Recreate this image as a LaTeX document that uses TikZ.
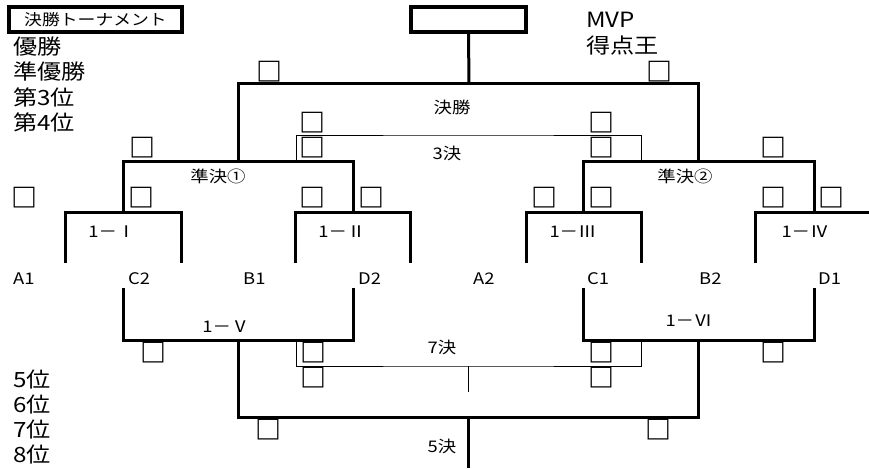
\documentclass[tikz,border=0pt]{standalone}
\usepackage{fontspec}
\setmainfont{Noto Sans CJK JP}
\newfontfamily\jpfont[FakeStretch=1.15]{Noto Sans CJK JP}
\begin{document}
\begin{tikzpicture}[
    x=1pt, y=-1pt,
    bracket/.style={line width=3pt},
    thinbracket/.style={line width=1pt},
    cellbox/.style={draw, line width=4pt, inner sep=0pt, minimum height=25pt},
    bigtext/.style={anchor=west, inner sep=0pt, font=\jpfont\fontsize{21}{21}\selectfont},
    small/.style={inner sep=0pt, font=\jpfont\fontsize{16}{16}\selectfont},
    team/.style={anchor=west, inner sep=0pt, font=\jpfont\fontsize{16}{16}\selectfont},
    score/.style={inner sep=0pt, font=\bfseries\fontsize{26}{26}\selectfont}
]
\useasboundingbox (0,0) rectangle (869,468);

% Cadres du haut
\node[cellbox, minimum width=173pt, font=\jpfont\fontsize{15.5}{15.5}\selectfont] (title) at (95.5,19.5) {決勝トーナメント};
\node[cellbox, minimum width=115pt] (champ) at (468.5,19.5) {};

% Classement
\node[bigtext] (p1) at (13,47) {優勝};
\node[bigtext] (p2) at (13,72) {準優勝};
\node[bigtext] (p3) at (13,97) {第3位};
\node[bigtext] (p4) at (13,122) {第4位};
\node[bigtext] (p5) at (13,380) {5位};
\node[bigtext] (p6) at (13,405) {6位};
\node[bigtext] (p7) at (13,430) {7位};
\node[bigtext] (p8) at (13,455) {8位};
\node[bigtext] (mvp) at (586,20) {MVP};
\node[bigtext] (scorer) at (586,46) {得点王};

% Points du tableau
\coordinate (final) at (469,84);
\coordinate (semi1) at (238,161);
\coordinate (semi2) at (698,161);
\coordinate (q1) at (123,212);
\coordinate (q2) at (353,212);
\coordinate (q3) at (583,212);
\coordinate (q4) at (814,212);
\coordinate (tA1) at (65,263);
\coordinate (tC2) at (181,263);
\coordinate (tB1) at (295,263);
\coordinate (tD2) at (410,263);
\coordinate (tA2) at (526,263);
\coordinate (tC1) at (641,263);
\coordinate (tB2) at (755,263);
\coordinate (tD1) at (869,212);
\coordinate (third) at (468,135);
\coordinate (l3a) at (296,161);
\coordinate (l3b) at (641,161);
\coordinate (lC2) at (123,288);
\coordinate (lD2) at (353,288);
\coordinate (lC1) at (583,288);
\coordinate (lD1) at (814,288);
\coordinate (cons1) at (238,340);
\coordinate (cons2) at (698,340);
\coordinate (seventh) at (468,366);
\coordinate (l7a) at (296,340);
\coordinate (l7b) at (641,340);
\coordinate (seventhend) at (468,392);
\coordinate (fifth) at (468,417);
\coordinate (fifthend) at (468,468);

% Tableau principal
\draw[bracket] (champ.south) -- (final);
\draw[bracket] (semi1) |- (final) -| (semi2);
\draw[bracket] (q1) |- (semi1) -| (q2);
\draw[bracket] (q3) |- (semi2) -| (q4);
\draw[bracket] (tA1) |- (q1) -| (tC2);
\draw[bracket] (tB1) |- (q2) -| (tD2);
\draw[bracket] (tA2) |- (q3) -| (tC1);
\draw[bracket] (tB2) |- (q4) -- (tD1);
\draw[thinbracket] (l3a) |- (third) -| (l3b);

% Tableau de classement
\draw[bracket] (lC2) |- (cons1) -| (lD2);
\draw[bracket] (lC1) |- (cons2) -| (lD1);
\draw[bracket] (cons1) |- (fifth) -| (cons2);
\draw[bracket] (fifth) -- (fifthend);
\draw[thinbracket] (l7a) |- (seventh) -| (l7b);
\draw[thinbracket] (seventh) -- (seventhend);

% Noms des matchs
\node[small] (lfinal) at (452,107) {決勝};
\node[small] (lthird) at (447,153) {3決};
\node[small] (lsemi1) at (218,176) {準決①};
\node[small] (lsemi2) at (685,176) {準決②};
\node[small] (lq1) at (112,232) {1－Ⅰ};
\node[small] (lq2) at (342,232) {1－Ⅱ};
\node[small] (lq3) at (573,232) {1－Ⅲ};
\node[small] (lq4) at (805,232) {1－Ⅳ};
\node[small] (lcons1) at (226,327) {1－Ⅴ};
\node[small] (lcons2) at (689,321) {1－Ⅵ};
\node[small] (lseventh) at (442,347) {7決};
\node[small] (lfifth) at (442,446) {5決};

% Equipes
\foreach \t/\x in {A1/13,C2/128,B1/243,D2/358,A2/473,C1/587,B2/699,D1/818}
  \node[team] (n\t) at (\x,279) {\t};

% Cases de score
\foreach \x/\y [count=\i] in {269/72,659/72,312/123,601/123,142/148,312/148,601/148,773/148,
    24/198,141/198,312/198,371/198,544/198,601/198,773/198,831/198,
    153/353,313/353,601/353,773/353,313/378,601/378,268/430,658/430}
  \node[score] (sq\i) at (\x,\y) {□};

\end{tikzpicture}
\end{document}
